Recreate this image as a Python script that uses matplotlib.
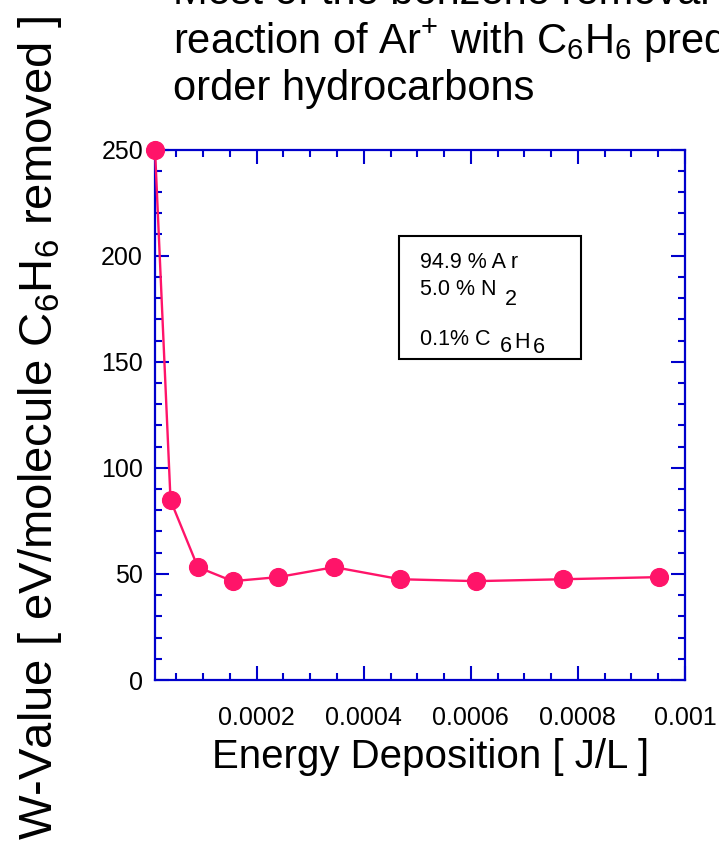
import matplotlib
matplotlib.use("Agg")
import matplotlib.pyplot as plt
from matplotlib.ticker import MultipleLocator, FuncFormatter
from matplotlib.patches import Rectangle

# energy deposition [J/L] and W-value [eV/molecule C6H6 removed]
energy = [1.0e-5, 3.9e-5, 9.0e-5, 1.55e-4, 2.40e-4, 3.45e-4, 4.68e-4, 6.10e-4, 7.72e-4, 9.51e-4]
w_value = [250, 84.7, 53.2, 46.6, 48.5, 53.2, 47.5, 46.6, 47.5, 48.5]

# gas mixture legend, each line split in (text, dx, dy) pieces so the
# lowered subscripts look like the original slide
gas_mix = [
    [("94.9 % A r", 0, 0)],
    [("5.0 % N", 0, 0), ("2", 6, -7)],
    [("0.1% C", 0, 0), ("6", 7, -5), ("H", 1.5, 2.5), ("6", 2.5, -3)],
]
title_lines = ["Most of the benzene removal is due to the",
               "reaction of Ar$^{+}$ with C$_6$H$_6$ predominantly producing higher",
               "order hydrocarbons"]

plt.rcParams['font.family'] = ['Liberation Sans', 'DejaVu Sans']
plt.rcParams['mathtext.fontset'] = 'custom'
plt.rcParams['mathtext.rm'] = 'Liberation Sans'
plt.rcParams['mathtext.it'] = 'Liberation Sans'
plt.rcParams['mathtext.default'] = 'regular'

axis_blue = '#0000CC'
pink = '#FF1469'

fig = plt.figure(figsize=(7.19, 8.41), dpi=100)
ax = fig.add_axes([0.2156, 0.1914, 0.737, 0.6308])

ax.plot(energy, w_value, color=pink, lw=1.7, marker='o', ms=12.8,
        mec=pink, mfc=pink, clip_on=False, zorder=3)

ax.set_xlim(1.0e-5, 0.001)
ax.set_ylim(0, 250)
ax.xaxis.set_major_locator(MultipleLocator(0.0002))
ax.xaxis.set_minor_locator(MultipleLocator(0.00005))
ax.yaxis.set_major_locator(MultipleLocator(50))
ax.yaxis.set_minor_locator(MultipleLocator(10))
ax.xaxis.set_major_formatter(FuncFormatter(lambda v, p: f"{v:g}"))
ax.yaxis.set_major_formatter(FuncFormatter(lambda v, p: f"{v:g}"))

for sp in ax.spines.values():
    sp.set_color(axis_blue)
    sp.set_linewidth(1.6)
ax.tick_params(which='both', direction='in', top=True, right=True,
               color=axis_blue, width=1.5, labelsize=18, labelcolor='black')
ax.tick_params(which='major', length=10)
ax.tick_params(which='minor', length=5)
ax.tick_params(axis='x', pad=18.5)
ax.tick_params(axis='y', pad=8.6)

# gas mixture box
ax.add_patch(Rectangle((0.461, 0.605), 0.342, 0.232, transform=ax.transAxes,
                       fill=False, ec='black', lw=1.5))
for pieces, yy in zip(gas_mix, [0.7766, 0.7257, 0.6315]):
    first, _, _ = pieces[0]
    prev = ax.text(0.5, yy, first, transform=ax.transAxes, fontsize=15.5,
                   ha='left', va='baseline')
    for txt, dx, dy in pieces[1:]:
        prev = ax.annotate(txt, xy=(1, 0), xycoords=prev, xytext=(dx, dy),
                           textcoords='offset points', fontsize=15.5,
                           ha='left', va='bottom')

fig.text(430.5 / 719, 1 - 768 / 841, "Energy Deposition [ J/L ]",
         fontsize=29, ha='center', va='baseline')
fig.text(52 / 719, 1 - 428 / 841, "W-Value [ eV/molecule C$_6$H$_6$ removed ]",
         fontsize=34, rotation=90, rotation_mode='anchor',
         ha='center', va='baseline')

for txt, base in zip(title_lines, [4.5, 53.3, 100]):
    fig.text(173 / 719, 1 - base / 841, txt, fontsize=30,
             ha='left', va='baseline')

fig.savefig("out.png", dpi=100)
